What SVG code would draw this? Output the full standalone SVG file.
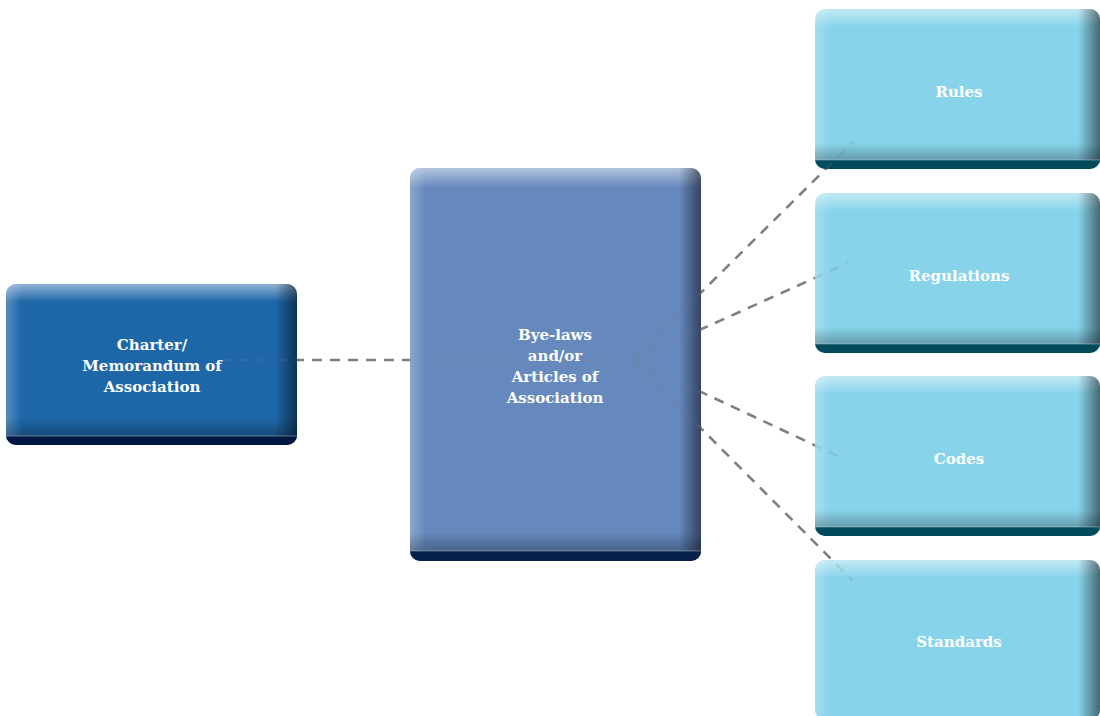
<svg xmlns="http://www.w3.org/2000/svg" width="1100" height="716" viewBox="0 0 1100 716">
  <style>
    .lbl { font-family: "DejaVu Serif", "Liberation Serif", serif; font-weight: bold; font-size: 15px; fill: #ffffff; text-anchor: middle; }
    .conn { fill: none; stroke: #7f7f7f; stroke-width: 2.6; stroke-dasharray: 10 8; }
    .b1 { fill: #1d66a8; } .band1 { fill: #001744; }
    .b2 { fill: #6588bd; } .band2 { fill: #06204a; }
    .b3 { fill: #87d3ea; } .band3 { fill: #004a5b; }
    .edge { stroke: #ffffff; stroke-opacity: 0.35; stroke-width: 1; }
  </style>
  <defs>
    <clipPath id="cSmall"><rect width="291" height="161" rx="10"/></clipPath>
    <clipPath id="cBig"><rect width="291" height="393" rx="10"/></clipPath>
    <clipPath id="cRight"><rect width="285" height="160" rx="10"/></clipPath>
    <linearGradient id="topHi" x1="0" y1="0" x2="0" y2="1">
      <stop offset="0" stop-color="#ffffff" stop-opacity="0.5"/>
      <stop offset="1" stop-color="#ffffff" stop-opacity="0"/>
    </linearGradient>
    <linearGradient id="leftHi" x1="0" y1="0" x2="1" y2="0">
      <stop offset="0" stop-color="#ffffff" stop-opacity="0.25"/>
      <stop offset="1" stop-color="#ffffff" stop-opacity="0"/>
    </linearGradient>
    <linearGradient id="rightSh" x1="0" y1="0" x2="1" y2="0">
      <stop offset="0" stop-color="#000000" stop-opacity="0"/>
      <stop offset="1" stop-color="#000000" stop-opacity="0.5"/>
    </linearGradient>
    <linearGradient id="botSh" x1="0" y1="0" x2="0" y2="1">
      <stop offset="0" stop-color="#000000" stop-opacity="0"/>
      <stop offset="1" stop-color="#000000" stop-opacity="0.28"/>
    </linearGradient>
    <mask id="connMask" maskUnits="userSpaceOnUse" x="0" y="0" width="1100" height="716">
      <rect width="1100" height="716" fill="#ffffff"/>
      <rect x="6" y="284" width="291" height="161" fill="#333333"/>
      <rect x="410" y="168" width="291" height="393" fill="#333333"/>
      <rect x="815" y="9" width="285" height="160" fill="#333333"/>
      <rect x="815" y="193" width="285" height="160" fill="#333333"/>
      <rect x="815" y="376" width="285" height="160" fill="#333333"/>
      <rect x="815" y="560" width="285" height="160" fill="#333333"/>
    </mask>
  </defs>

  <g id="node-charter" transform="translate(6,284)">
    <rect class="b1" width="291" height="161" rx="10"/>
    <g clip-path="url(#cSmall)">
      <rect width="291" height="18" fill="url(#topHi)"/>
      <rect width="16" height="161" fill="url(#leftHi)"/>
      <rect x="269" width="22" height="161" fill="url(#rightSh)"/>
      <rect y="134" width="291" height="19" fill="url(#botSh)"/>
      <rect class="band1" y="152" width="291" height="9"/>
      <line class="edge" x1="0" y1="152" x2="291" y2="152"/>
    </g>
    <text class="lbl" x="146" y="66">Charter/</text>
    <text class="lbl" x="146" y="87">Memorandum of</text>
    <text class="lbl" x="146" y="108">Association</text>
  </g>

  <g id="node-byelaws" transform="translate(410,168)">
    <rect class="b2" width="291" height="393" rx="10"/>
    <g clip-path="url(#cBig)">
      <rect width="291" height="20" fill="url(#topHi)"/>
      <rect width="16" height="393" fill="url(#leftHi)"/>
      <rect x="269" width="22" height="393" fill="url(#rightSh)"/>
      <rect y="364" width="291" height="20" fill="url(#botSh)"/>
      <rect class="band2" y="383" width="291" height="10"/>
      <line class="edge" x1="0" y1="383" x2="291" y2="383"/>
    </g>
    <text class="lbl" x="145" y="172">Bye-laws</text>
    <text class="lbl" x="145" y="193">and/or</text>
    <text class="lbl" x="145" y="214">Articles of</text>
    <text class="lbl" x="145" y="235">Association</text>
  </g>

  <g id="node-rules" transform="translate(815,9)">
    <rect class="b3" width="285" height="160" rx="10"/>
    <g clip-path="url(#cRight)">
      <rect width="285" height="18" fill="url(#topHi)"/>
      <rect width="16" height="160" fill="url(#leftHi)"/>
      <rect x="263" width="22" height="160" fill="url(#rightSh)"/>
      <rect y="134" width="285" height="18" fill="url(#botSh)"/>
      <rect class="band3" y="151" width="285" height="9"/>
      <line class="edge" x1="0" y1="151" x2="285" y2="151"/>
    </g>
    <text class="lbl" x="144" y="88">Rules</text>
  </g>

  <g id="node-regulations" transform="translate(815,193)">
    <rect class="b3" width="285" height="160" rx="10"/>
    <g clip-path="url(#cRight)">
      <rect width="285" height="18" fill="url(#topHi)"/>
      <rect width="16" height="160" fill="url(#leftHi)"/>
      <rect x="263" width="22" height="160" fill="url(#rightSh)"/>
      <rect y="134" width="285" height="18" fill="url(#botSh)"/>
      <rect class="band3" y="151" width="285" height="9"/>
      <line class="edge" x1="0" y1="151" x2="285" y2="151"/>
    </g>
    <text class="lbl" x="144" y="88">Regulations</text>
  </g>

  <g id="node-codes" transform="translate(815,376)">
    <rect class="b3" width="285" height="160" rx="10"/>
    <g clip-path="url(#cRight)">
      <rect width="285" height="18" fill="url(#topHi)"/>
      <rect width="16" height="160" fill="url(#leftHi)"/>
      <rect x="263" width="22" height="160" fill="url(#rightSh)"/>
      <rect y="134" width="285" height="18" fill="url(#botSh)"/>
      <rect class="band3" y="151" width="285" height="9"/>
      <line class="edge" x1="0" y1="151" x2="285" y2="151"/>
    </g>
    <text class="lbl" x="144" y="88">Codes</text>
  </g>

  <g id="node-standards" transform="translate(815,560)">
    <rect class="b3" width="285" height="160" rx="10"/>
    <g clip-path="url(#cRight)">
      <rect width="285" height="18" fill="url(#topHi)"/>
      <rect width="16" height="160" fill="url(#leftHi)"/>
      <rect x="263" width="22" height="160" fill="url(#rightSh)"/>
    </g>
    <text class="lbl" x="144" y="87">Standards</text>
  </g>

  <g id="connectors" mask="url(#connMask)">
    <path class="conn" d="M222,360 L633,360"/>
    <path class="conn" d="M633,360 L854,141"/>
    <path class="conn" d="M633,360 L848,263"/>
    <path class="conn" d="M633,360 L842,458"/>
    <path class="conn" d="M633,360 L852,580"/>
  </g>
</svg>
